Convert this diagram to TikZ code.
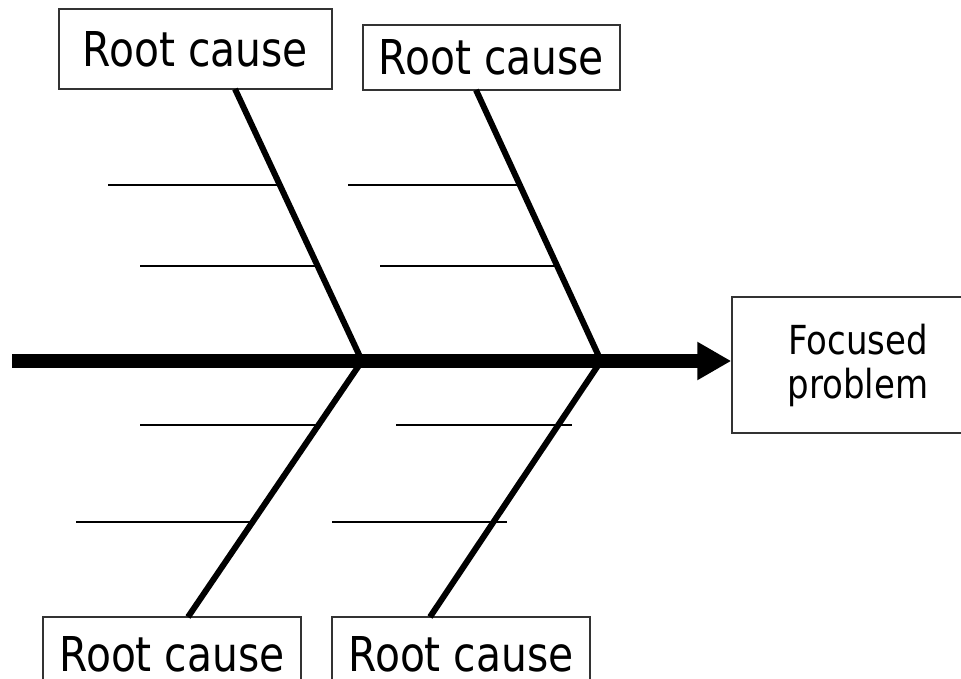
\documentclass[tikz,border=0pt]{standalone}
\usepackage{fontspec}
\setmainfont{DejaVu Sans}[FakeStretch=0.85]
\usetikzlibrary{arrows.meta}
\begin{document}
\begin{tikzpicture}[x=1pt,y=-1pt,
  boxline/.style={draw=black!80,line width=1.5pt},
  causebox/.style={boxline,inner sep=0pt,
    font=\fontsize{48}{52}\selectfont},
  opencause/.style={inner sep=0pt,text height=47pt,text depth=0pt,
    font=\fontsize{48}{52}\selectfont},
  effectbox/.style={boxline,inner sep=0pt,align=center,
    font=\fontsize{40}{44}\selectfont},
  spine/.style={line width=14pt,-{Triangle[length=34pt,width=36pt]}},
  bone/.style={line width=6pt},
  rib/.style={line width=2pt}]
\useasboundingbox (0,0) rectangle (961,679);
\clip (0,0) rectangle (961,679);

% cause boxes along the top
\node[causebox,minimum width=273pt,minimum height=80pt] (tl) at (195.5,49) {Root cause};
\node[causebox,minimum width=257pt,minimum height=65pt] (tr) at (491.5,57.5) {Root cause};

% cause boxes along the bottom, running off the lower edge
\node[opencause,minimum width=258pt,minimum height=62pt] (bl) at (172,648) {Root cause};
\node[opencause,minimum width=258pt,minimum height=62pt] (br) at (461,648) {Root cause};
\foreach \b in {bl,br}
  \draw[boxline] ([yshift=-10pt]\b.south west) -- (\b.north west) -- (\b.north east) -- ([yshift=-10pt]\b.south east);

% effect box
\node[effectbox,minimum width=252pt,minimum height=136pt] (fp) at (858,365) {Focused\\problem};

% spine
\coordinate (tail) at (12,361);
\coordinate (j1) at (362,361);
\coordinate (j2) at (601,361);
\draw[spine] (tail) -- (tail -| fp.west);

% main bones
\coordinate (tlb) at (235,89);
\coordinate (trb) at (476,90);
\coordinate (blb) at (188,617);
\coordinate (brb) at (430,617);
\draw[bone] (j1) -- (tlb);
\draw[bone] (j2) -- (trb);
\draw[bone] (j1) -- (blb);
\draw[bone] (j2) -- (brb);

% ribs
\coordinate (r1a) at (108,185); \coordinate (r1b) at (279,185);
\coordinate (r2a) at (140,266); \coordinate (r2b) at (316,266);
\coordinate (r3a) at (348,185); \coordinate (r3b) at (519,185);
\coordinate (r4a) at (380,266); \coordinate (r4b) at (556,266);
\coordinate (r5a) at (140,425); \coordinate (r5b) at (317,425);
\coordinate (r6a) at (76,522);  \coordinate (r6b) at (251,522);
\coordinate (r7a) at (396,425); \coordinate (r7b) at (572,425);
\coordinate (r8a) at (332,522); \coordinate (r8b) at (507,522);
\foreach \r in {1,...,8} \draw[rib] (r\r a) -- (r\r b);
\end{tikzpicture}
\end{document}
